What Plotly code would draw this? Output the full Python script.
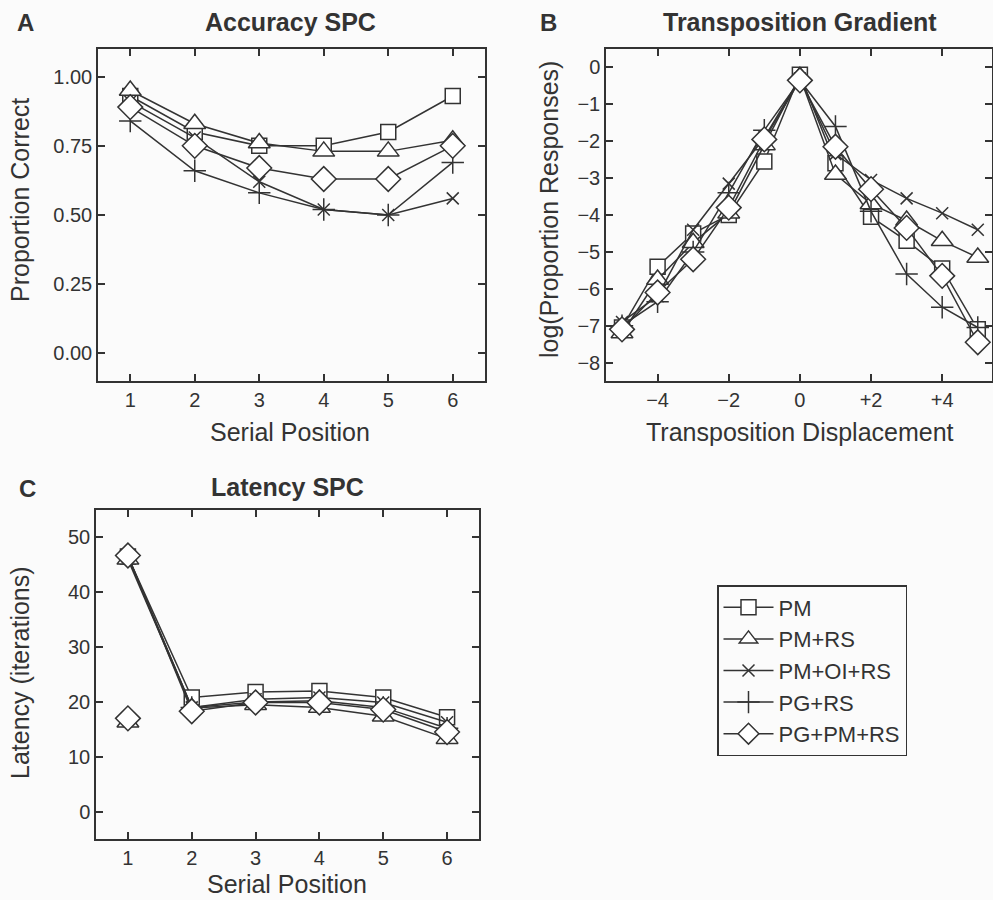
import plotly.graph_objects as go

# ---- data -------------------------------------------------------------
models = ["PM", "PM+RS", "PM+OI+RS", "PG+RS", "PG+PM+RS"]

serial_pos = [1, 2, 3, 4, 5, 6]
displacement = [-5, -4, -3, -2, -1, 0, 1, 2, 3, 4, 5]

# Accuracy serial-position curves (proportion correct)
acc_pm = [0.93, 0.80, 0.75, 0.75, 0.80, 0.93]
acc_pm_rs = [0.95, 0.83, 0.76, 0.73, 0.73, 0.77]
acc_pm_oi_rs = [0.91, 0.78, 0.62, 0.52, 0.50, 0.56]
acc_pg_rs = [0.84, 0.66, 0.58, 0.52, 0.50, 0.69]
acc_pg_pm_rs = [0.89, 0.75, 0.67, 0.63, 0.63, 0.75]

# Transposition gradients, log(proportion of responses)
tg_pm = [-7.05, -5.4, -4.5, -4.0, -2.55, -0.2, -2.6, -4.05, -4.7, -5.45, -7.1]
tg_pm_rs = [-7.2, -5.75, -4.75, -3.95, -2.1, -0.25, -2.9, -3.7, -4.15, -4.7, -5.15]
tg_pm_oi_rs = [-6.9, -6.2, -4.4, -3.15, -1.9, -0.3, -2.35, -3.05, -3.55, -3.95, -4.4]
tg_pg_rs = [-7.0, -6.35, -5.0, -3.4, -1.7, -0.35, -1.6, -3.9, -5.6, -6.5, -7.05]
tg_pg_pm_rs = [-7.1, -6.1, -5.2, -3.8, -1.95, -0.35, -2.15, -3.3, -4.35, -5.65, -7.45]

# Latency serial-position curves (iterations)
lat_pm = [46.5, 20.8, 21.8, 22.0, 20.8, 17.2]
lat_pm_rs = [46.0, 18.9, 19.5, 19.0, 17.4, 13.3]
lat_pm_oi_rs = [46.5, 19.0, 20.5, 20.8, 19.9, 16.3]
lat_pg_rs = [46.5, 19.0, 20.0, 20.2, 19.0, 15.2]
lat_pg_pm_rs = [46.7, 18.3, 19.9, 19.9, 18.6, 14.5]

# Separate first-position latency for the two RS models shown as lone markers
lat_first_models = ["PM+RS", "PG+PM+RS"]
lat_first_vals = [16.3, 17.0]

acc_tick_vals = [0, 0.25, 0.5, 0.75, 1.0]
tg_tick_vals = [-4, -2, 0, 2, 4]
tg_tick_text = ["\u22124", "\u22122", "0", "+2", "+4"]
lat_tick_vals = [0, 10, 20, 30, 40, 50]

# ---- styles -----------------------------------------------------------
INK = "#333333"
BG = "#fbfbfb"
FONT = "Liberation Sans, Arial, sans-serif"

symbols = {
    "PM": ("square", 15),
    "PM+RS": ("triangle-up", 19),
    "PM+OI+RS": ("x-thin", 12),
    "PG+RS": ("cross-thin", 16),
    "PG+PM+RS": ("diamond", 19),
}

acc = dict(zip(models, [acc_pm, acc_pm_rs, acc_pm_oi_rs, acc_pg_rs, acc_pg_pm_rs]))
tg = dict(zip(models, [tg_pm, tg_pm_rs, tg_pm_oi_rs, tg_pg_rs, tg_pg_pm_rs]))
lat = dict(zip(models, [lat_pm, lat_pm_rs, lat_pm_oi_rs, lat_pg_rs, lat_pg_pm_rs]))

fig = go.Figure()


def marker(name):
    sym, size = symbols[name]
    return dict(symbol=sym, size=size, color="white",
                line=dict(color=INK, width=1.5))


line_style = dict(color=INK, width=1.5)

for name in models:
    fig.add_trace(go.Scatter(x=serial_pos, y=acc[name], name=name, mode="lines+markers",
                             line=line_style, marker=marker(name),
                             legendgroup=name, showlegend=True, xaxis="x", yaxis="y"))
for name in models:
    fig.add_trace(go.Scatter(x=displacement, y=tg[name], name=name, mode="lines+markers",
                             line=line_style, marker=marker(name),
                             legendgroup=name, showlegend=False, xaxis="x2", yaxis="y2"))
for name in models:
    fig.add_trace(go.Scatter(x=serial_pos, y=lat[name], name=name, mode="lines+markers",
                             line=line_style, marker=marker(name),
                             legendgroup=name, showlegend=False, xaxis="x3", yaxis="y3"))
for name, v in zip(lat_first_models, lat_first_vals):
    fig.add_trace(go.Scatter(x=[serial_pos[0]], y=[v], name=name, mode="markers",
                             marker=marker(name), legendgroup=name, showlegend=False,
                             xaxis="x3", yaxis="y3"))

W, H = 993, 900


def px_x(a, b):
    return [a / W, b / W]


def px_y(top, bottom):
    return [1 - bottom / H, 1 - top / H]


axis_common = dict(showline=True, linecolor=INK, linewidth=1.5, mirror="ticks",
                   ticks="inside", ticklen=7, tickwidth=1.5, tickcolor=INK,
                   showgrid=False, zeroline=False,
                   tickfont=dict(family=FONT, size=20, color=INK))

fig.update_layout(
    width=W, height=H,
    margin=dict(l=0, r=0, t=0, b=0),
    paper_bgcolor=BG, plot_bgcolor=BG,
    font=dict(family=FONT, color=INK),
    xaxis=dict(domain=px_x(98, 485), range=[0.5, 6.5], tickvals=serial_pos,
               anchor="y", **axis_common),
    yaxis=dict(domain=px_y(49, 381), range=[-0.1, 1.1], tickvals=acc_tick_vals,
               tickformat=".2f", anchor="x", **axis_common),
    xaxis2=dict(domain=px_x(606, 992), range=[-5.45, 5.4], tickvals=tg_tick_vals,
                ticktext=tg_tick_text, anchor="y2", **axis_common),
    yaxis2=dict(domain=px_y(49, 381), range=[-8.5, 0.5], tickvals=list(range(-8, 1)),
                anchor="x2", **axis_common),
    xaxis3=dict(domain=px_x(96, 479), range=[0.5, 6.5], tickvals=serial_pos,
                anchor="y3", **axis_common),
    yaxis3=dict(domain=px_y(510, 839), range=[-5, 55], tickvals=lat_tick_vals,
                anchor="x3", **axis_common),
    legend=dict(x=717 / W, y=1 - 585 / H, xanchor="left", yanchor="top",
                bordercolor=INK, borderwidth=1.5, bgcolor="rgba(0,0,0,0)",
                font=dict(family=FONT, size=22, color=INK), tracegroupgap=0,
                itemwidth=50),
)


def label(text, x, y, size, bold=False, angle=0):
    fig.add_annotation(x=x / W, y=1 - y / H, xref="paper", yref="paper",
                       text=f"<b>{text}</b>" if bold else text, showarrow=False,
                       textangle=angle, xanchor="center", yanchor="middle",
                       font=dict(family=FONT, size=size, color=INK))


# panel letters and titles
label("A", 25, 22, 24, bold=True)
label("B", 548, 22, 24, bold=True)
label("C", 27, 488, 24, bold=True)
label("Accuracy SPC", 290, 22, 25, bold=True)
label("Transposition Gradient", 800, 22, 25, bold=True)
label("Latency SPC", 287, 487, 25, bold=True)

# axis titles
label("Serial Position", 290, 432, 25)
label("Transposition Displacement", 800, 432, 25)
label("Serial Position", 287, 884, 25)
label("Proportion Correct", 20, 200, 25, angle=-90)
label("log(Proportion Responses)", 549, 210, 25, angle=-90)
label("Latency (iterations)", 20, 673, 25, angle=-90)

fig.write_html("out.html")
